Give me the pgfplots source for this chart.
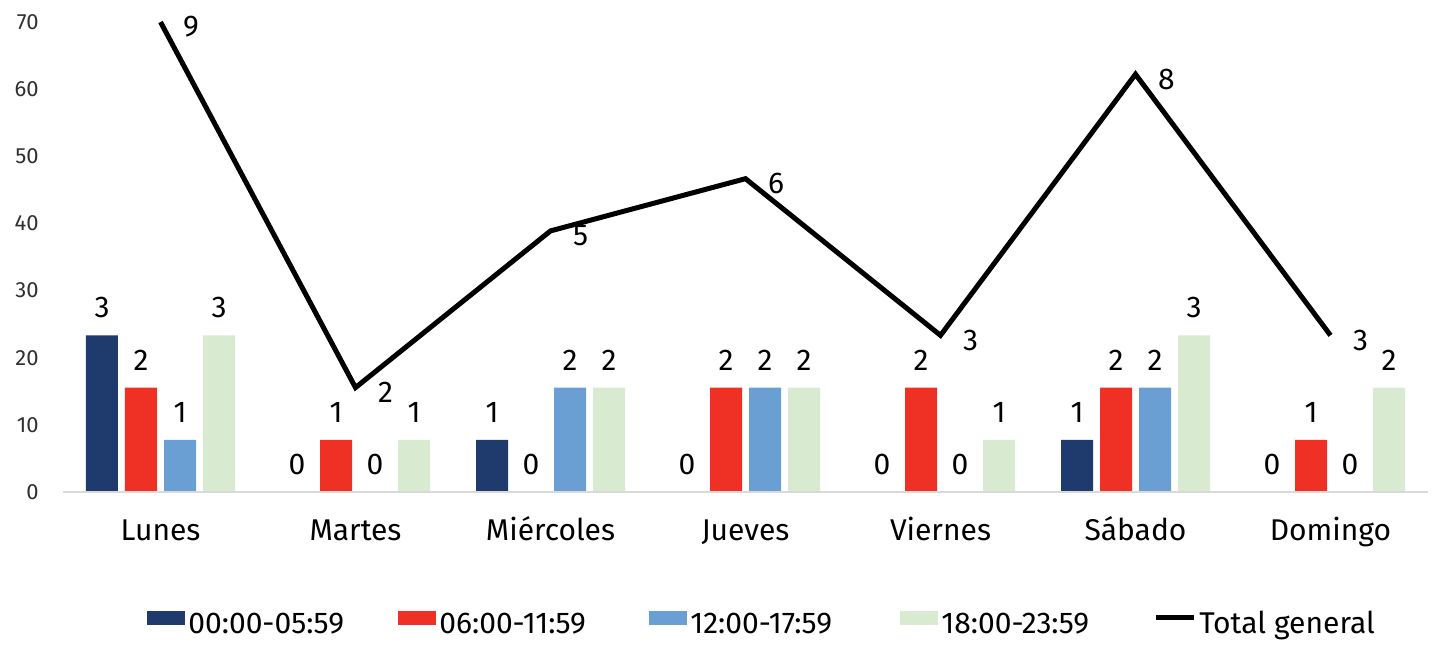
\documentclass[border=0pt]{standalone}
\usepackage{pgfplots}
\usepackage{pgfplotstable}
\pgfplotsset{compat=1.18}
\usepackage{fontspec}
\setmainfont{Fira Sans}

\definecolor{navy}{HTML}{1F3B6E}
\definecolor{rojo}{HTML}{EE3124}
\definecolor{celeste}{HTML}{6A9FD4}
\definecolor{verde}{HTML}{D8EBD1}
\definecolor{eje}{HTML}{D9D9D9}
\definecolor{texto}{HTML}{303030}

% conteos por franja horaria, 0 = Lunes ... 6 = Domingo
\pgfplotstableread{
dia t1 t2 t3 t4 total
0 3 2 1 3 9
1 0 1 0 1 2
2 1 0 2 2 5
3 0 2 2 2 6
4 0 2 0 1 3
5 1 2 2 3 8
6 0 1 0 2 3
}\datos

\pgfplotsset{
  barra/.style={ybar, bar width=16pt, bar shift=#1, draw=none,
    nodes near coords,
    every node near coord/.append style={font=\fontsize{15}{18}\selectfont,
      text=black, anchor=south, inner sep=0pt, xshift=#1, yshift=8.5pt}},
}

\begin{document}
\begin{tikzpicture}
\begin{axis}[
  scale only axis, width=682.5pt, height=235pt,
  xmin=-0.5, xmax=6.5, ymin=0, ymax=70,
  clip=false,
  xtick={0,...,6},
  xticklabels={Lunes,Martes,Miércoles,Jueves,Viernes,Sábado,Domingo},
  ytick={0,10,...,70},
  axis line style={draw=none}, major tick length=0pt,
  /pgf/number format/assume math mode=true,
  xticklabel style={font=\fontsize{15}{18}\selectfont, anchor=base,
    inner sep=0pt, yshift=-24pt, text=black},
  yticklabel style={font=\fontsize{11}{13}\selectfont, anchor=east,
    inner sep=0pt, xshift=-12pt, text=texto},
  y filter/.expression={y*70/9},
  point meta=explicit,
  legend style={at={(0.0615,-0.252)}, anchor=north west, draw=none,
    fill=none, inner sep=0pt, legend columns=-1,
    nodes={inner sep=0pt, anchor=base west},
    font=\fontsize{15}{18}\selectfont,
    /tikz/every odd column/.append style={column sep=1.5pt}},
]
\addplot[barra=-29.25pt, fill=navy,
  legend image code/.code={\fill[navy] (0pt,4.5pt) rectangle (19pt,11.5pt);}]
  table[x=dia, y=t1, meta=t1] {\datos};
\addlegendentry{\makebox[105pt][l]{00:00-05:59}}

\addplot[barra=-9.75pt, fill=rojo,
  legend image code/.code={\fill[rojo] (0pt,4.5pt) rectangle (19pt,11.5pt);}]
  table[x=dia, y=t2, meta=t2] {\datos};
\addlegendentry{\makebox[105pt][l]{06:00-11:59}}

\addplot[barra=9.75pt, fill=celeste,
  legend image code/.code={\fill[celeste] (0pt,4.5pt) rectangle (19pt,11.5pt);}]
  table[x=dia, y=t3, meta=t3] {\datos};
\addlegendentry{\makebox[105pt][l]{12:00-17:59}}

\addplot[barra=29.25pt, fill=verde,
  legend image code/.code={\fill[verde] (0pt,4.5pt) rectangle (19pt,11.5pt);}]
  table[x=dia, y=t4, meta=t4] {\datos};
\addlegendentry{\makebox[106pt][l]{18:00-23:59}}

\draw[eje, line width=1pt] (rel axis cs:0,0) -- (rel axis cs:1,0);

\addplot[sharp plot, black, line width=2.5pt, mark=none,
  nodes near coords,
  every node near coord/.append style={font=\fontsize{15}{18}\selectfont,
    text=black, anchor=west, inner sep=0pt, xshift=10pt, yshift=-2.5pt},
  legend image code/.code={\draw[black, line width=2.5pt] (0pt,8pt) -- (19pt,8pt);}]
  table[x=dia, y=total, meta=total] {\datos};
\addlegendentry{Total general}
\end{axis}
\pgfresetboundingbox
\path[use as bounding box] (-31.5pt,-76.5pt) rectangle (685pt,246pt);
\end{tikzpicture}
\end{document}
